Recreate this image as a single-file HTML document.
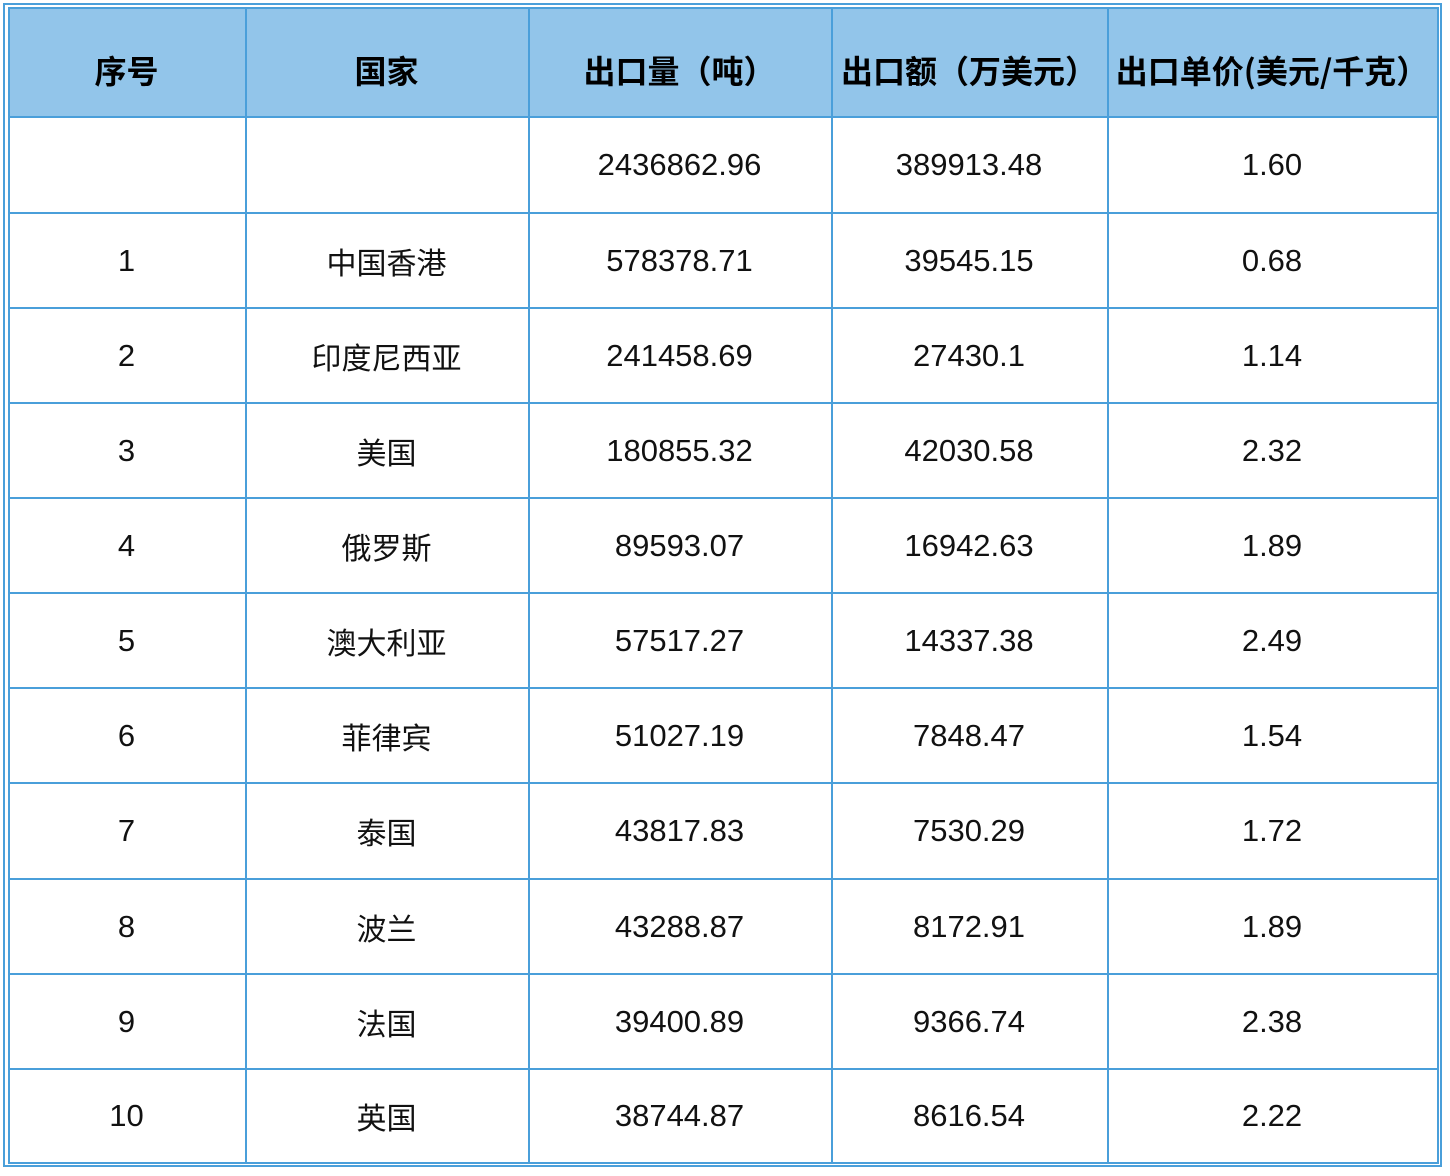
<!DOCTYPE html>
<html><head><meta charset="utf-8"><style>
body{margin:0;background:#fff;width:1450px;height:1176px;position:relative;overflow:hidden;font-family:"Liberation Sans","Noto Sans CJK SC",sans-serif;}
.o{position:absolute;left:3px;top:3px;width:1435px;height:1160px;border:2px solid #4a9fda;}
.h{position:absolute;left:9px;top:8px;width:1429px;height:108px;background:#92c5ea;}
.v,.r{position:absolute;background:#4a9fda;}
.t{position:absolute;text-align:center;font-size:31px;color:#111;transform:translateY(-50%);white-space:nowrap;}
.c{font-size:30px;}
.b{font-weight:bold;color:#000;font-size:32px;font-family:"Noto Sans CJK SC","Liberation Sans",sans-serif;}
</style></head><body>
<div class="o"></div><div class="h"></div>
<div id="g"></div>
<script>
var xs=[8,245,528,831,1107,1437],ys=[7,116,212,307,402,497,592,687,782,878,973,1068,1162];
var g=document.getElementById('g'),h='';
xs.forEach(x=>h+=`<div class="v" style="left:${x}px;top:7px;width:2px;height:1157px"></div>`);
ys.forEach(y=>h+=`<div class="r" style="left:8px;top:${y}px;width:1431px;height:2px"></div>`);
var rows=[["序号","国家","出口量（吨）","出口额（万美元）","出口单价(美元/千克）"],
["","","2436862.96","389913.48","1.60"],
["1","中国香港","578378.71","39545.15","0.68"],
["2","印度尼西亚","241458.69","27430.1","1.14"],
["3","美国","180855.32","42030.58","2.32"],
["4","俄罗斯","89593.07","16942.63","1.89"],
["5","澳大利亚","57517.27","14337.38","2.49"],
["6","菲律宾","51027.19","7848.47","1.54"],
["7","泰国","43817.83","7530.29","1.72"],
["8","波兰","43288.87","8172.91","1.89"],
["9","法国","39400.89","9366.74","2.38"],
["10","英国","38744.87","8616.54","2.22"]];
rows.forEach((r,i)=>{var cy=(ys[i]+ys[i+1])/2+(i==0?8:1);r.forEach((c,j)=>{
h+=`<div class="t${i==0?' b':(j==1?' c':'')}" style="left:${xs[j]}px;width:${xs[j+1]-xs[j]}px;top:${cy}px">${c}</div>`;});});
g.innerHTML=h;
</script>
</body></html>
